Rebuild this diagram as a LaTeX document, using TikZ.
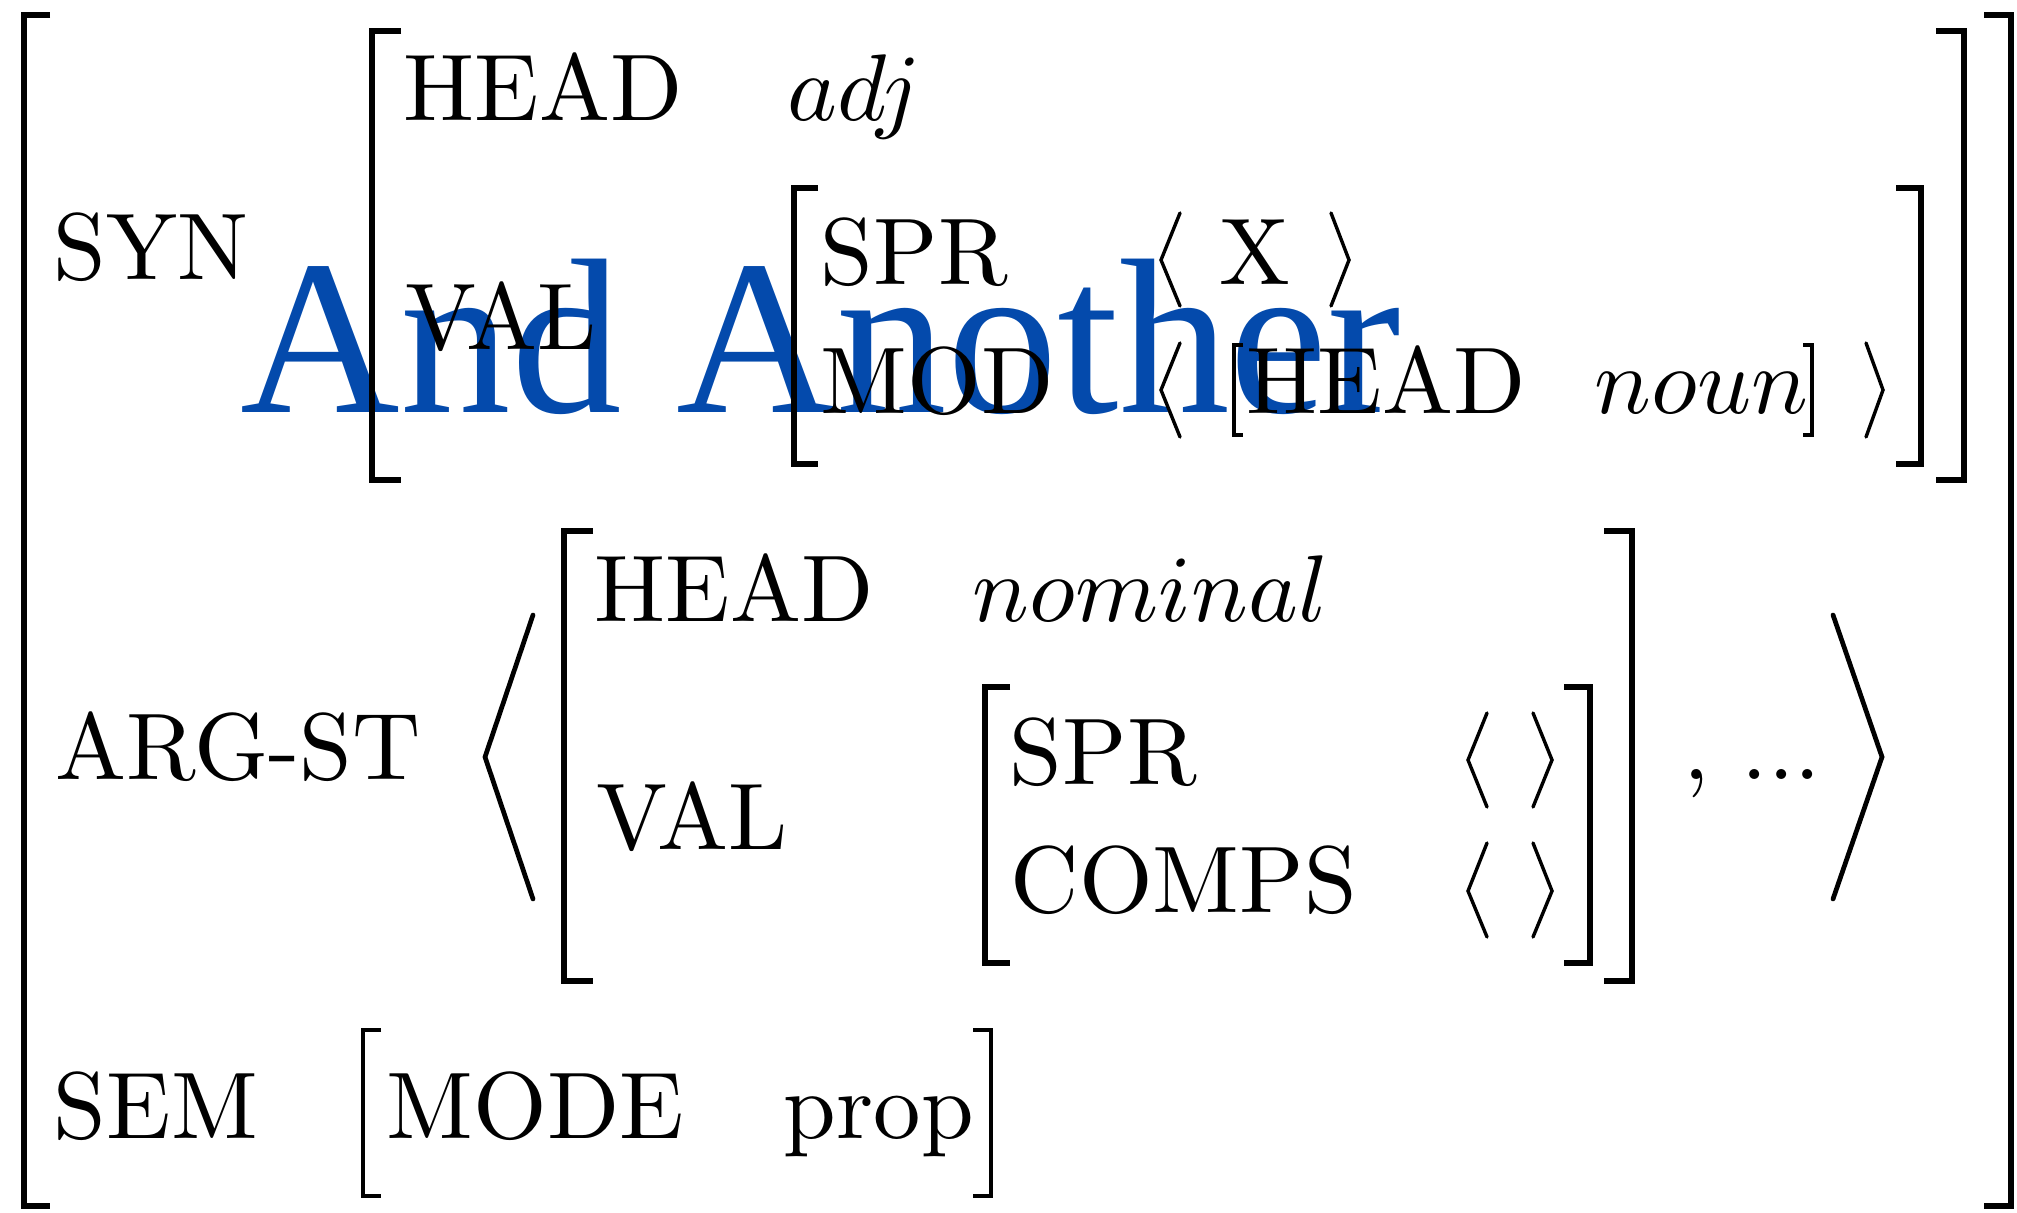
\documentclass[tikz,border=0pt]{standalone}
\usepackage{fontspec}
\newfontfamily\markfont{Liberation Serif}
\definecolor{markblue}{RGB}{4,74,172}
\tikzset{
  feat/.style={anchor=base west, inner sep=0pt},
  brk/.style={line width=0.62pt},
  thinbrk/.style={line width=0.4pt},
  ang/.style={line width=0.36pt, line cap=round},
  bigang/.style={line width=0.5pt, line cap=round}
}

\begin{document}
\begin{tikzpicture}[x=0.1056pt, y=-0.1056pt]
  \useasboundingbox (0,0) rectangle (2017,1213);
  \node[feat, text=markblue, font=\markfont\fontsize{23.35}{28}\selectfont] (mark) at (239,413) {And Another};

  \draw[brk] (50,15) -- (24,15) -- (24,1206) -- (50,1206);
  \draw[brk] (1984,15) -- (2011,15) -- (2011,1206) -- (1984,1206);

  \node[feat] (syn) at (52,280) {SYN};
  \draw[brk] (401,31) -- (372,31) -- (372,480) -- (401,480);
  \draw[brk] (1936,31) -- (1964,31) -- (1964,480) -- (1936,480);
  \node[feat] (head1) at (402,121) {HEAD};
  \node[feat] (adj) at (786,121) {$adj$};
  \node[feat] (val1) at (404,350) {VAL};
  \draw[brk] (818,188) -- (794,188) -- (794,464) -- (818,464);
  \draw[brk] (1896,188) -- (1921,188) -- (1921,464) -- (1896,464);
  \node[feat] (spr1) at (819,285) {SPR};
  \draw[ang] (1180,213) -- (1161,260) -- (1180,306);
  \node[feat] (xarg) at (1218,285) {X};
  \draw[ang] (1331,213) -- (1349,260) -- (1331,306);
  \node[feat] (mod) at (819,414) {MOD};
  \draw[ang] (1180,343) -- (1161,390) -- (1180,437);
  \draw[thinbrk] (1243,345) -- (1234,345) -- (1234,435) -- (1243,435);
  \node[feat] (head2) at (1245,414) {HEAD};
  \node[feat] (noun) at (1593,414) {$noun$};
  \draw[thinbrk] (1803,345) -- (1812,345) -- (1812,435) -- (1803,435);
  \draw[ang] (1866,343) -- (1883,390) -- (1866,437);

  \node[feat] (argst) at (54,780) {ARG-ST};
  \draw[bigang] (533,615) -- (485,757) -- (533,899);
  \draw[brk] (593,531) -- (564,531) -- (564,981) -- (593,981);
  \draw[brk] (1604,531) -- (1632,531) -- (1632,981) -- (1604,981);
  \node[feat] (head3) at (593,622) {HEAD};
  \node[feat] (nominal) at (971,622) {$nominal$};
  \node[feat] (val2) at (595,850) {VAL};
  \draw[brk] (1010,687) -- (985,687) -- (985,963) -- (1010,963);
  \draw[brk] (1564,687) -- (1590,687) -- (1590,963) -- (1564,963);
  \node[feat] (spr2) at (1008,785) {SPR};
  \draw[ang] (1487,713) -- (1468,760) -- (1487,807);
  \draw[ang] (1533,713) -- (1552,760) -- (1533,807);
  \node[feat] (comps) at (1009,913) {COMPS};
  \draw[ang] (1487,843) -- (1468,891) -- (1487,937);
  \draw[ang] (1533,843) -- (1552,891) -- (1533,937);
  \node[feat] (rest) at (1682,780) {, ...};
  \draw[bigang] (1833,615) -- (1882,757) -- (1833,899);

  \node[feat] (sem) at (52,1138) {SEM};
  \draw[thinbrk] (381,1030) -- (363,1030) -- (363,1196) -- (381,1196);
  \node[feat] (mode) at (385,1138) {MODE};
  \node[feat] (prop) at (782,1138) {prop};
  \draw[thinbrk] (973,1030) -- (991,1030) -- (991,1196) -- (973,1196);
\end{tikzpicture}
\end{document}
